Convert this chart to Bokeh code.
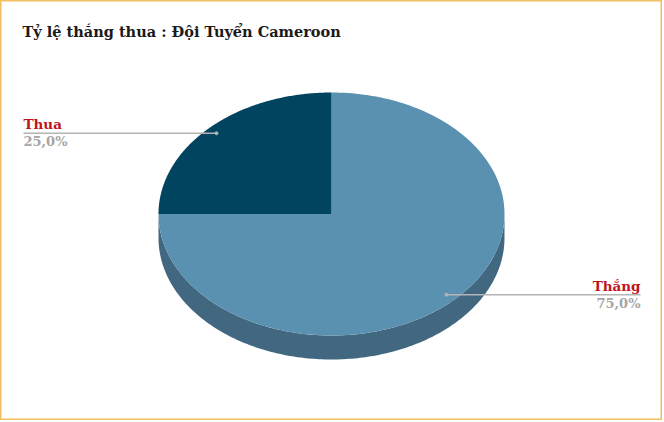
import numpy as np
from bokeh.plotting import figure
from bokeh.models import Range1d
from bokeh.core.properties import value
from bokeh.embed import file_html
from bokeh.resources import INLINE

# ---- data ----
title_text = "Tỷ lệ thă\u0301ng thua : Đội Tuyển Cameroon"
categories = ["Thă\u0301ng", "Thua"]
percents = [75.0, 25.0]
pct_labels = ["75,0%", "25,0%"]
slice_colors = ["#5A91B0", "#00445F"]

# ---- layout (reference pixel coordinates) ----
W, H = 662, 420
cx, cy, rx, ry, depth = 331.0, 213.5, 173.0, 121.5, 24.0
FONT = "DejaVu Serif"

p = figure(width=W, height=H, output_backend="svg", toolbar_location=None,
           x_range=Range1d(0, W), y_range=Range1d(H, 0),
           min_border=0, background_fill_color="white", border_fill_color="white")
p.axis.visible = False
p.grid.visible = False
p.outline_line_color = "#F2C063"
p.outline_line_width = 2

def ell(t, dy=0.0):
    return cx + rx * np.cos(t), cy - ry * np.sin(t) + dy

# side (front half)
t = np.linspace(np.pi, 2 * np.pi, 200)
x1, y1 = ell(t)
x2, y2 = ell(t[::-1], depth)
p.patch(np.concatenate([x1, x2]), np.concatenate([y1, y2]),
        fill_color="#426780", line_color=None)

# top face slices: clockwise from 12 o'clock
total = sum(percents)
start = np.pi / 2
anchors = []
for val, col in zip(percents, slice_colors):
    sweep = 2 * np.pi * val / total
    tt = np.linspace(start, start - sweep, 200)
    ex, ey = ell(tt)
    p.patch(np.concatenate([[cx], ex]), np.concatenate([[cy], ey]),
            fill_color=col, line_color=None)
    mid = start - sweep / 2
    anchors.append((cx + 0.94 * rx * np.cos(mid), cy - 0.94 * ry * np.sin(mid)))
    start -= sweep

# leader lines and labels
for (ax, ay), cat, pl in zip(anchors, categories, pct_labels):
    right = ax > cx
    end = 640 if right else 23
    p.line([ax, end], [ay, ay], line_color="#B4B4B4", line_width=1.5)
    p.scatter([ax], [ay], size=3, color="#B4B4B4")
    align = "right" if right else "left"
    p.text([end], [ay - 1], text=[cat], text_font=value(FONT), text_font_style="bold",
           text_font_size="13.5px", text_color="#C0141C", text_align=align,
           text_baseline="bottom")
    p.text([end], [ay + 1], text=[pl], text_font=value(FONT), text_font_style="bold",
           text_font_size="13px", text_color="#A6A6A6", text_align=align,
           text_baseline="top")

# title
p.text([22], [31], text=[title_text], text_font=value(FONT), text_font_style="bold",
       text_font_size="14.5px", text_color="#1A1A1A", text_align="left",
       text_baseline="middle")

open("out.html", "w").write(file_html(p, INLINE))
